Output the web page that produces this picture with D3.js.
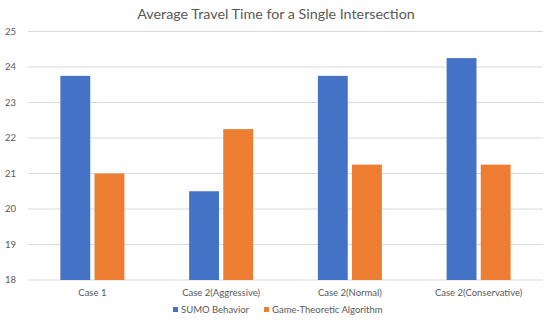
<!DOCTYPE html>
<html>
<head>
<meta charset="utf-8">
<script src="https://cdn.jsdelivr.net/npm/d3@7"></script>
<style>
  body { margin: 0; background: #fff; }
  text { font-family: Lato, "Open Sans", sans-serif; fill: #595959; }
</style>
</head>
<body>
<svg width="550" height="323"></svg>
<script>
var categories = ["Case 1", "Case 2(Aggressive)", "Case 2(Normal)", "Case 2(Conservative)"];
var seriesNames = ["SUMO Behavior", "Game-Theoretic Algorithm"];
var sumoValues = [23.75, 20.5, 23.75, 24.25];
var gameValues = [21, 22.25, 21.25, 21.25];
var yTicks = [18, 19, 20, 21, 22, 23, 24, 25];
var colors = ["#4472C4", "#ED7D31"];

var svg = d3.select("svg"),
    width = +svg.attr("width"),
    height = +svg.attr("height");

var margin = {left: 28, right: 7, top: 31.5, bottom: 43};

var x = d3.scaleBand()
    .domain(categories)
    .range([margin.left, width - margin.right]);

var inner = d3.scaleBand()
    .domain(seriesNames)
    .range([x.bandwidth() / 2 - 32, x.bandwidth() / 2 + 32])
    .paddingInner(0.125);

var y = d3.scaleLinear()
    .domain([18, 25])
    .range([height - margin.bottom, margin.top]);

svg.append("text")
    .attr("x", 276)
    .attr("y", 19)
    .attr("text-anchor", "middle")
    .style("font-size", "14.3px")
    .text("Average Travel Time for a Single Intersection");

// gridlines
svg.append("g")
  .selectAll("line")
  .data(yTicks)
  .enter().append("line")
    .attr("x1", margin.left)
    .attr("x2", width - margin.right)
    .attr("y1", function(d) { return y(d); })
    .attr("y2", function(d) { return y(d); })
    .attr("stroke", "#D9D9D9")
    .attr("stroke-width", 1);

svg.append("g")
  .selectAll("text")
  .data(yTicks)
  .enter().append("text")
    .attr("x", 16)
    .attr("y", function(d) { return y(d); })
    .attr("dy", "0.35em")
    .attr("text-anchor", "end")
    .style("font-size", "9.5px")
    .text(function(d) { return d; });

var rows = categories.map(function(c, i) {
  return {cat: c, vals: [sumoValues[i], gameValues[i]]};
});

var group = svg.append("g")
  .selectAll("g")
  .data(rows)
  .enter().append("g")
    .attr("transform", function(d) { return "translate(" + x(d.cat) + ",0)"; });

group.selectAll("rect")
  .data(function(d) { return d.vals.map(function(v, j) { return {name: seriesNames[j], value: v, i: j}; }); })
  .enter().append("rect")
    .attr("x", function(d) { return inner(d.name); })
    .attr("width", inner.bandwidth())
    .attr("y", function(d) { return y(d.value); })
    .attr("height", function(d) { return y(18) - y(d.value); })
    .attr("fill", function(d) { return colors[d.i]; });

svg.append("g")
  .selectAll("text")
  .data(categories)
  .enter().append("text")
    .attr("x", function(d) { return x(d) + x.bandwidth() / 2; })
    .attr("y", 296)
    .attr("text-anchor", "middle")
    .style("font-size", "9.5px")
    .text(function(d) { return d; });

// legend
var legendX = [173, 264];
var legend = svg.append("g")
  .selectAll("g")
  .data(seriesNames)
  .enter().append("g")
    .attr("transform", function(d, i) { return "translate(" + legendX[i] + ",310)"; });

legend.append("rect")
    .attr("x", 0)
    .attr("y", -3)
    .attr("width", 5)
    .attr("height", 5)
    .attr("fill", function(d, i) { return colors[i]; });

legend.append("text")
    .attr("x", 8)
    .attr("dy", "0.3em")
    .style("font-size", "9.5px")
    .text(function(d) { return d; });
</script>
</body>
</html>
